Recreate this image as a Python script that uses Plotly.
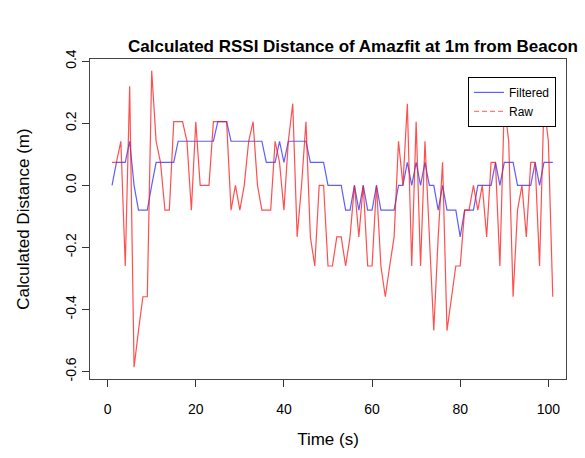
import plotly.graph_objects as go

time_s = list(range(1, 102))

raw = [0.074, 0.074, 0.142, -0.26, 0.319, -0.586, -0.468, -0.359, -0.359, 0.369,
       0.142, 0.074, -0.08, -0.08, 0.205, 0.205, 0.205, 0.142, -0.08, 0.205,
       0.0, 0.0, 0.0, 0.205, 0.205, 0.205, 0.205, -0.08, 0.0, -0.08,
       0.0, 0.142, 0.205, 0.0, -0.08, -0.08, -0.08, 0.142, 0.074, -0.08,
       0.142, 0.263, -0.166, 0.0, 0.205, -0.166, -0.26, 0.0, 0.0, -0.26,
       -0.26, -0.166, -0.166, -0.26, -0.166, 0.0, -0.166, 0.0, -0.26, -0.26,
       0.0, -0.26, -0.359, -0.26, -0.166, 0.142, 0.0, 0.263, -0.26, 0.205,
       -0.26, 0.142, -0.166, -0.468, -0.166, 0.074, -0.468, -0.359, -0.26, -0.26,
       -0.08, -0.08, 0.0, -0.08, 0.0, -0.166, 0.074, 0.074, -0.26, 0.263,
       0.142, -0.359, -0.08, 0.0, -0.166, 0.074, 0.074, -0.26, 0.263, 0.142,
       -0.359]

filtered = [0.0, 0.074, 0.074, 0.074, 0.142, 0.0, -0.08, -0.08, -0.08, 0.0,
            0.074, 0.074, 0.074, 0.074, 0.074, 0.142, 0.142, 0.142, 0.142, 0.142,
            0.142, 0.142, 0.142, 0.142, 0.205, 0.205, 0.205, 0.142, 0.142, 0.142,
            0.142, 0.142, 0.142, 0.142, 0.142, 0.074, 0.074, 0.074, 0.142, 0.074,
            0.142, 0.142, 0.142, 0.142, 0.142, 0.074, 0.074, 0.074, 0.074, 0.0,
            0.0, 0.0, 0.0, -0.08, -0.08, 0.0, -0.08, 0.0, -0.08, -0.08,
            0.0, -0.08, -0.08, -0.08, -0.08, 0.0, 0.0, 0.074, 0.0, 0.074,
            0.0, 0.074, 0.0, 0.0, -0.08, 0.0, -0.08, -0.08, -0.08, -0.166,
            -0.08, -0.08, -0.08, 0.0, 0.0, 0.0, 0.0, 0.074, 0.0, 0.074,
            0.074, 0.074, 0.0, 0.0, 0.0, 0.0, 0.074, 0.0, 0.074, 0.074,
            0.074]

x_ticks = [0, 20, 40, 60, 80, 100]
y_ticks = [-0.6, -0.4, -0.2, 0.0, 0.2, 0.4]
y_tick_labels = ["-0.6", "-0.4", "-0.2", "0.0", "0.2", "0.4"]

FONT = "Liberation Sans, Arial, Helvetica, sans-serif"
BLUE = "rgba(40,40,255,0.75)"
RED = "rgba(255,20,20,0.75)"

fig = go.Figure()
fig.add_trace(go.Scatter(x=time_s, y=filtered, mode="lines", name="Filtered",
                         line=dict(color=BLUE, width=1.2), legendrank=1))
fig.add_trace(go.Scatter(x=time_s, y=raw, mode="lines", name="Raw", showlegend=False,
                         line=dict(color=RED, width=1.2)))
fig.add_trace(go.Scatter(x=[None], y=[None], mode="lines", name="Raw",
                         line=dict(color="rgba(255,90,90,0.8)", width=1.2, dash="5px,3px"),
                         legendrank=2))

fig.update_layout(
    width=585, height=458,
    margin=dict(l=90, r=19, t=59, b=79),
    paper_bgcolor="white", plot_bgcolor="white",
    font=dict(family=FONT, size=14, color="black"),
    showlegend=True,
    legend=dict(x=0.979, xanchor="right", y=0.944, yanchor="top",
                bgcolor="white", bordercolor="black", borderwidth=1,
                font=dict(size=12), tracegroupgap=0),
    annotations=[dict(text="<b>Calculated RSSI Distance of Amazfit at 1m from Beacon</b>",
                      x=(353 - 90) / 476, xref="paper", y=(379 - 47) / 320, yref="paper",
                      xanchor="center", yanchor="middle", showarrow=False,
                      font=dict(size=17, family=FONT))],
)

fig.update_xaxes(range=[-4, 104], tickvals=x_ticks, ticks="outside", ticklen=7,
                 tickcolor="#333", showgrid=False, zeroline=False,
                 showline=True, linecolor="#444", linewidth=1, mirror=True,
                 ticklabelstandoff=10,
                 title=dict(text="Time (s)", standoff=17))
fig.update_yaxes(range=[-0.624, 0.407], tickvals=y_ticks, ticktext=y_tick_labels,
                 tickangle=-90, ticks="outside", ticklen=7,
                 tickcolor="#333", showgrid=False, zeroline=False,
                 showline=True, linecolor="#444", linewidth=1, mirror=True,
                 title=dict(text="Calculated Distance (m)", standoff=29))

fig.write_html("out.html")
